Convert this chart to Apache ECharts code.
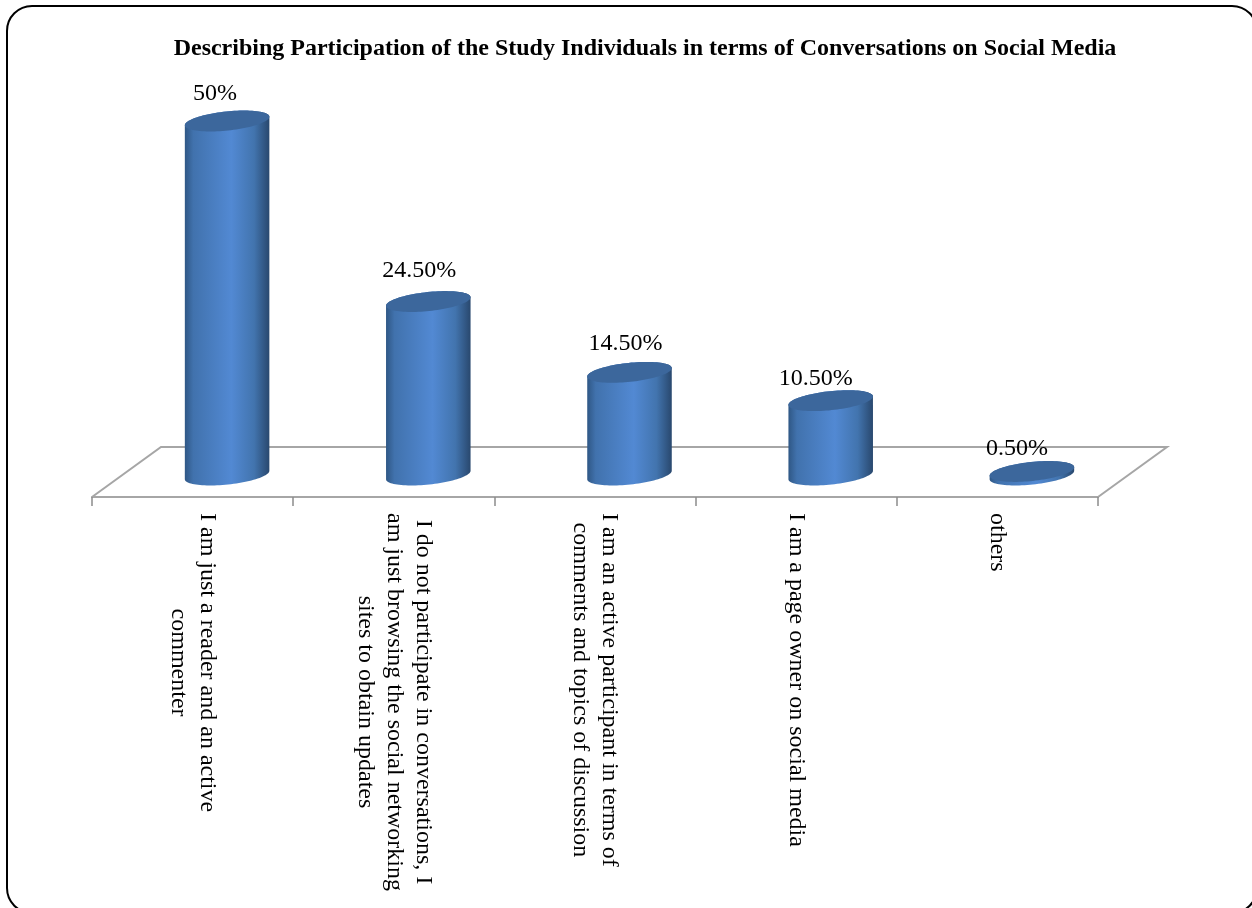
<!DOCTYPE html>
<html>
<head>
<meta charset="utf-8">
<style>html,body{margin:0;padding:0;background:#fff}#c{width:1252px;height:908px}</style>
<script src="https://cdn.jsdelivr.net/npm/echarts@6/dist/echarts.min.js"></script>
</head>
<body>
<div id="c"></div>
<script>
var titleText = 'Describing Participation of the Study Individuals in terms of Conversations on Social Media';
var categories = [
  'I am just a reader and an active\ncommenter',
  'I do not participate in conversations, I\nam just browsing the social networking\nsites to obtain updates',
  'I am an active participant in terms of\ncomments and topics of discussion',
  'I am a page owner on social media',
  'others'
];
var values = [50, 24.5, 14.5, 10.5, 0.5];
var valueLabels = ['50%', '24.50%', '14.50%', '10.50%', '0.50%'];
var labelShiftX = [-12, -9, -4, -15, -15];
var labelShiftY = [-27, -31, -29, -22, -23];

var FONT = '"Liberation Serif","Times New Roman",serif';
var DEPTH = 34.5, RX = 42.5, RY = 9.5, TILT = -0.105;

function ellipsePoint(cx, cy, t) {
  var x = RX * Math.cos(t), y = RY * Math.sin(t);
  return [cx + x * Math.cos(TILT) - y * Math.sin(TILT), cy + x * Math.sin(TILT) + y * Math.cos(TILT)];
}
function cylinder(params, api) {
  var i = api.value(0);
  var top = api.coord([i, api.value(1)]);
  var base = api.coord([i, 0]);
  var cx = top[0] + DEPTH;
  var pts = [], n = 48, k;
  for (k = 0; k <= n; k++) pts.push(ellipsePoint(cx, base[1], Math.PI * k / n));
  for (k = 0; k <= n; k++) pts.push(ellipsePoint(cx, top[1], Math.PI + Math.PI * k / n));
  var body = new echarts.graphic.LinearGradient(0, 0, 1, 0, [
    {offset: 0, color: '#2f5785'},
    {offset: 0.1, color: '#4172ad'},
    {offset: 0.55, color: '#5289d3'},
    {offset: 0.82, color: '#4274ae'},
    {offset: 1, color: '#29486e'}
  ]);
  return {
    type: 'group',
    children: [
      {type: 'polygon', shape: {points: pts}, style: {fill: body}},
      {type: 'polygon', shape: {points: (function () {
        var p = [];
        for (var j = 0; j <= n * 2; j++) p.push(ellipsePoint(cx, top[1], Math.PI * j / n));
        return p;
      })()}, style: {fill: '#3c679c'}},
      {type: 'text', x: cx + labelShiftX[i], y: top[1] + labelShiftY[i], style: {
        text: valueLabels[i], fill: '#000', font: '24px ' + FONT, align: 'center', verticalAlign: 'middle'
      }}
    ]
  };
}

var chart = echarts.init(document.getElementById('c'), null, {renderer: 'canvas'});
chart.setOption({
  animation: false,
  backgroundColor: '#fff',
  title: {
    text: titleText, left: 640, top: 32, textAlign: 'center',
    textStyle: {fontFamily: FONT, fontSize: 24, fontWeight: 'bold', color: '#000'}
  },
  grid: {left: 92, width: 1006, top: 121, height: 354},
  xAxis: {
    type: 'category',
    data: categories,
    offset: 22,
    axisLine: {onZero: false, lineStyle: {color: '#a6a6a6', width: 2}},
    axisTick: {show: true, alignWithLabel: false, length: 9, lineStyle: {color: '#8c8c8c', width: 1.5}},
    axisLabel: {
      interval: 0, rotate: -90, margin: 16, align: 'left', verticalAlign: 'middle',
      formatter: function (v) {
        return v.split('\n').map(function (l) { return '{c|' + l + '}'; }).join('\n');
      },
      rich: {c: {align: 'center', fontFamily: FONT, fontSize: 24, lineHeight: 29, color: '#000'}}
    }
  },
  yAxis: {type: 'value', min: 0, max: 50, show: false},
  graphic: [
    {type: 'rect', z: 0, shape: {x: 7, y: 6, width: 1250, height: 907, r: 25},
      style: {fill: 'none', stroke: '#000', lineWidth: 2}},
    {type: 'polyline', z: 0, shape: {points: [[92, 497], [161, 447], [1167, 447], [1098, 497]]},
      style: {fill: 'none', stroke: '#a6a6a6', lineWidth: 2}}
  ],
  series: [{
    type: 'custom',
    z: 5,
    clip: false,
    renderItem: cylinder,
    data: values.map(function (v, i) { return [i, v]; })
  }]
});
</script>
</body>
</html>
